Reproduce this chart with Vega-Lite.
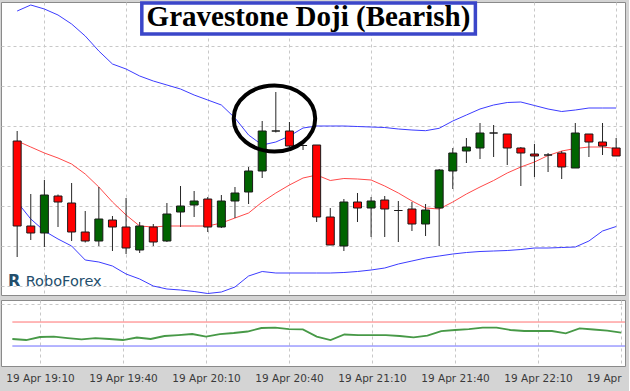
{
  "$schema": "https://vega.github.io/schema/vega-lite/v6.json",
  "background": "#d4d4d4",
  "padding": {"left": 0, "top": 0, "right": 3, "bottom": 4},
  "spacing": 3,
  "datasets": {
    "candles": [
      {"t": "2013/04/19 19:00", "o": 1.30145, "h": 1.30155, "l": 1.30029, "c": 1.3006, "dir": "down", "up": 1.30275, "mid": 1.30145, "lo": 1.30084, "rsi": 41.7},
      {"t": "2013/04/19 19:05", "o": 1.3006, "h": 1.30092, "l": 1.30046, "c": 1.30053, "dir": "down", "up": 1.30281, "mid": 1.30139, "lo": 1.30067, "rsi": 40},
      {"t": "2013/04/19 19:10", "o": 1.30053, "h": 1.30106, "l": 1.30039, "c": 1.30091, "dir": "up", "up": 1.30277, "mid": 1.30133, "lo": 1.30055, "rsi": 45},
      {"t": "2013/04/19 19:15", "o": 1.3009, "h": 1.300915, "l": 1.30059, "c": 1.30084, "dir": "down", "up": 1.30271, "mid": 1.30128, "lo": 1.30047, "rsi": 45.5},
      {"t": "2013/04/19 19:20", "o": 1.30083, "h": 1.30103, "l": 1.30045, "c": 1.30054, "dir": "down", "up": 1.30262, "mid": 1.30122, "lo": 1.3004, "rsi": 43.3},
      {"t": "2013/04/19 19:25", "o": 1.30054, "h": 1.30075, "l": 1.300435, "c": 1.30045, "dir": "down", "up": 1.3025, "mid": 1.30112, "lo": 1.30026, "rsi": 41.2},
      {"t": "2013/04/19 19:30", "o": 1.30045, "h": 1.30099, "l": 1.3004, "c": 1.30067, "dir": "up", "up": 1.30235, "mid": 1.30099, "lo": 1.30024, "rsi": 43.3},
      {"t": "2013/04/19 19:35", "o": 1.30066, "h": 1.3007, "l": 1.30035, "c": 1.30059, "dir": "down", "up": 1.30222, "mid": 1.30084, "lo": 1.3002, "rsi": 41.7},
      {"t": "2013/04/19 19:40", "o": 1.30059, "h": 1.30088, "l": 1.30032, "c": 1.30038, "dir": "down", "up": 1.30217, "mid": 1.30071, "lo": 1.30012, "rsi": 40},
      {"t": "2013/04/19 19:45", "o": 1.30036, "h": 1.30064, "l": 1.30033, "c": 1.3006, "dir": "up", "up": 1.3021, "mid": 1.3006, "lo": 1.30007, "rsi": 44.2},
      {"t": "2013/04/19 19:50", "o": 1.30059, "h": 1.30062, "l": 1.3004, "c": 1.30044, "dir": "down", "up": 1.30205, "mid": 1.30059, "lo": 1.3, "rsi": 41.7},
      {"t": "2013/04/19 19:55", "o": 1.30045, "h": 1.30083, "l": 1.30044, "c": 1.30072, "dir": "up", "up": 1.30201, "mid": 1.3006, "lo": 1.29997, "rsi": 46.7},
      {"t": "2013/04/19 20:00", "o": 1.30074, "h": 1.301, "l": 1.30059, "c": 1.3008, "dir": "up", "up": 1.30197, "mid": 1.3006, "lo": 1.29996, "rsi": 48.3},
      {"t": "2013/04/19 20:05", "o": 1.30081, "h": 1.30095, "l": 1.30069, "c": 1.30085, "dir": "up", "up": 1.30191, "mid": 1.3006, "lo": 1.299945, "rsi": 50},
      {"t": "2013/04/19 20:10", "o": 1.30087, "h": 1.30089, "l": 1.30054, "c": 1.30059, "dir": "down", "up": 1.30186, "mid": 1.3006, "lo": 1.299925, "rsi": 45.8},
      {"t": "2013/04/19 20:15", "o": 1.30059, "h": 1.30091, "l": 1.30058, "c": 1.30085, "dir": "up", "up": 1.30181, "mid": 1.30063, "lo": 1.29994, "rsi": 50},
      {"t": "2013/04/19 20:20", "o": 1.30085, "h": 1.30099, "l": 1.30068, "c": 1.30093, "dir": "up", "up": 1.30168, "mid": 1.30068, "lo": 1.29999, "rsi": 51.7},
      {"t": "2013/04/19 20:25", "o": 1.30094, "h": 1.30119, "l": 1.30082, "c": 1.30115, "dir": "up", "up": 1.30151, "mid": 1.30073, "lo": 1.3001, "rsi": 54.2},
      {"t": "2013/04/19 20:30", "o": 1.30115, "h": 1.30165, "l": 1.30108, "c": 1.30155, "dir": "up", "up": 1.30141, "mid": 1.30084, "lo": 1.300145, "rsi": 60},
      {"t": "2013/04/19 20:35", "o": 1.30155, "h": 1.30194, "l": 1.301535, "c": 1.30155, "dir": "doji", "up": 1.30144, "mid": 1.30093, "lo": 1.30013, "rsi": 60.5},
      {"t": "2013/04/19 20:40", "o": 1.30155, "h": 1.30164, "l": 1.30139, "c": 1.3014, "dir": "down", "up": 1.3015, "mid": 1.30101, "lo": 1.30013, "rsi": 58.3},
      {"t": "2013/04/19 20:45", "o": 1.301405, "h": 1.301415, "l": 1.30136, "c": 1.301405, "dir": "doji", "up": 1.30158, "mid": 1.30108, "lo": 1.30013, "rsi": 57.8},
      {"t": "2013/04/19 20:50", "o": 1.30141, "h": 1.30141, "l": 1.30064, "c": 1.30069, "dir": "down", "up": 1.3016, "mid": 1.30111, "lo": 1.30013, "rsi": 45.8},
      {"t": "2013/04/19 20:55", "o": 1.30069, "h": 1.30078, "l": 1.30041, "c": 1.30041, "dir": "down", "up": 1.3016, "mid": 1.301055, "lo": 1.30013, "rsi": 40},
      {"t": "2013/04/19 21:00", "o": 1.3004, "h": 1.30087, "l": 1.30035, "c": 1.30084, "dir": "up", "up": 1.3016, "mid": 1.301075, "lo": 1.300135, "rsi": 49.2},
      {"t": "2013/04/19 21:05", "o": 1.30084, "h": 1.30093, "l": 1.30064, "c": 1.30078, "dir": "down", "up": 1.301595, "mid": 1.30107, "lo": 1.300145, "rsi": 48.3},
      {"t": "2013/04/19 21:10", "o": 1.30078, "h": 1.30089, "l": 1.30049, "c": 1.30085, "dir": "up", "up": 1.30159, "mid": 1.30106, "lo": 1.30016, "rsi": 48.3},
      {"t": "2013/04/19 21:15", "o": 1.30086, "h": 1.3009, "l": 1.30049, "c": 1.30077, "dir": "down", "up": 1.301585, "mid": 1.301, "lo": 1.30018, "rsi": 48.3},
      {"t": "2013/04/19 21:20", "o": 1.300755, "h": 1.30085, "l": 1.30044, "c": 1.300755, "dir": "doji", "up": 1.30157, "mid": 1.30093, "lo": 1.30022, "rsi": 46.7},
      {"t": "2013/04/19 21:25", "o": 1.30077, "h": 1.30084, "l": 1.30055, "c": 1.30062, "dir": "down", "up": 1.30156, "mid": 1.30085, "lo": 1.30025, "rsi": 44.5},
      {"t": "2013/04/19 21:30", "o": 1.30062, "h": 1.30082, "l": 1.3005, "c": 1.30076, "dir": "up", "up": 1.301553, "mid": 1.30078, "lo": 1.30028, "rsi": 47.5},
      {"t": "2013/04/19 21:35", "o": 1.30078, "h": 1.30117, "l": 1.3004, "c": 1.30116, "dir": "up", "up": 1.301577, "mid": 1.30077, "lo": 1.3003, "rsi": 55},
      {"t": "2013/04/19 21:40", "o": 1.30115, "h": 1.30138, "l": 1.30097, "c": 1.30133, "dir": "up", "up": 1.30165, "mid": 1.30084, "lo": 1.30032, "rsi": 56.7},
      {"t": "2013/04/19 21:45", "o": 1.30135, "h": 1.30148, "l": 1.30123, "c": 1.30139, "dir": "up", "up": 1.30171, "mid": 1.30092, "lo": 1.300335, "rsi": 58.3},
      {"t": "2013/04/19 21:50", "o": 1.30138, "h": 1.30163, "l": 1.30127, "c": 1.30153, "dir": "up", "up": 1.30177, "mid": 1.30099, "lo": 1.300345, "rsi": 60.5},
      {"t": "2013/04/19 21:55", "o": 1.30153, "h": 1.30161, "l": 1.30129, "c": 1.30153, "dir": "doji", "up": 1.30181, "mid": 1.301055, "lo": 1.30035, "rsi": 60.5},
      {"t": "2013/04/19 22:00", "o": 1.30152, "h": 1.30152, "l": 1.30121, "c": 1.30138, "dir": "down", "up": 1.301835, "mid": 1.30113, "lo": 1.300355, "rsi": 56.7},
      {"t": "2013/04/19 22:05", "o": 1.30138, "h": 1.30139, "l": 1.301, "c": 1.30133, "dir": "down", "up": 1.30184, "mid": 1.30119, "lo": 1.300365, "rsi": 55},
      {"t": "2013/04/19 22:10", "o": 1.30132, "h": 1.30142, "l": 1.30109, "c": 1.3013, "dir": "down", "up": 1.301805, "mid": 1.30124, "lo": 1.30038, "rsi": 55},
      {"t": "2013/04/19 22:15", "o": 1.30131, "h": 1.30133, "l": 1.30114, "c": 1.30131, "dir": "doji", "up": 1.30177, "mid": 1.301305, "lo": 1.30038, "rsi": 55},
      {"t": "2013/04/19 22:20", "o": 1.30133, "h": 1.30135, "l": 1.30107, "c": 1.30119, "dir": "down", "up": 1.301745, "mid": 1.30135, "lo": 1.300385, "rsi": 51.2},
      {"t": "2013/04/19 22:25", "o": 1.30118, "h": 1.30163, "l": 1.30118, "c": 1.30153, "dir": "up", "up": 1.30176, "mid": 1.301375, "lo": 1.30039, "rsi": 59.5},
      {"t": "2013/04/19 22:30", "o": 1.30152, "h": 1.30152, "l": 1.30129, "c": 1.30144, "dir": "down", "up": 1.30178, "mid": 1.30139, "lo": 1.30045, "rsi": 57.5},
      {"t": "2013/04/19 22:35", "o": 1.30144, "h": 1.30163, "l": 1.30131, "c": 1.3014, "dir": "down", "up": 1.30178, "mid": 1.30139, "lo": 1.30055, "rsi": 55.8},
      {"t": "2013/04/19 22:40", "o": 1.30138, "h": 1.30148, "l": 1.3013, "c": 1.3013, "dir": "down", "up": 1.30178, "mid": 1.301375, "lo": 1.300595, "rsi": 52.5}
    ],
    "titlebox": [
      {"t": "2013/04/19 19:45:47", "t2": "2013/04/19 21:48:18", "p": 1.30283, "p2": 1.30252}
    ],
    "notes": [
      {"t": "2013/04/19 20:47:00", "p": 1.3026, "text": "Gravestone Doji (Bearish)", "kind": "title"},
      {"t": "2013/04/19 19:03:08", "p": 1.3, "text": "RoboForex", "kind": "logo"},
      {"t": "2013/04/19 18:56:38", "p": 1.3, "text": "R", "kind": "icon"}
    ],
    "ellipse": [
      {"t": "2013/04/19 20:34:30", "p": 1.301675}
    ],
    "levels": [
      {"t": "2013/04/19 19:00", "t2": "2013/04/19 22:41:25", "rsi": 70, "kind": "high"},
      {"t": "2013/04/19 19:00", "t2": "2013/04/19 22:41:25", "rsi": 30, "kind": "low"}
    ]
  },
  "vconcat": [
    {
      "width": 624,
      "height": 293,
      "encoding": {
        "x": {
          "field": "t", "type": "temporal", "title": null,
          "scale": {"domain": [{"year": 2013, "month": 4, "date": 19, "hours": 18, "minutes": 55, "seconds": 54}, {"year": 2013, "month": 4, "date": 19, "hours": 22, "minutes": 41, "seconds": 25}], "nice": false},
          "axis": {
            "values": [
              {"year": 2013, "month": 4, "date": 19, "hours": 19, "minutes": 10},
              {"year": 2013, "month": 4, "date": 19, "hours": 19, "minutes": 40},
              {"year": 2013, "month": 4, "date": 19, "hours": 20, "minutes": 10},
              {"year": 2013, "month": 4, "date": 19, "hours": 20, "minutes": 40},
              {"year": 2013, "month": 4, "date": 19, "hours": 21, "minutes": 10},
              {"year": 2013, "month": 4, "date": 19, "hours": 21, "minutes": 40},
              {"year": 2013, "month": 4, "date": 19, "hours": 22, "minutes": 10},
              {"year": 2013, "month": 4, "date": 19, "hours": 22, "minutes": 40}
            ],
            "labels": false, "ticks": false, "domain": false, "grid": true
          }
        }
      },
      "layer": [
        {
          "data": {"name": "candles"},
          "mark": {"type": "line", "color": "#3c3cff", "strokeWidth": 1},
          "encoding": {
            "y": {"field": "up", "type": "quantitative", "title": null,
              "scale": {"domain": [1.29991, 1.30284], "nice": false, "zero": false},
              "axis": {"values": [1.3, 1.3004, 1.3008, 1.3012, 1.3016, 1.302, 1.3024], "labels": false, "ticks": false, "domain": false, "grid": true}}
          }
        },
        {
          "data": {"name": "candles"},
          "mark": {"type": "line", "color": "#3c3cff", "strokeWidth": 1},
          "encoding": {
            "y": {"field": "lo", "type": "quantitative", "title": null, "scale": {"domain": [1.29991, 1.30284], "nice": false, "zero": false}}
          }
        },
        {
          "data": {"name": "candles"},
          "mark": {"type": "line", "color": "#ff4a4a", "strokeWidth": 1},
          "encoding": {
            "y": {"field": "mid", "type": "quantitative", "title": null, "scale": {"domain": [1.29991, 1.30284], "nice": false, "zero": false}}
          }
        },
        {
          "data": {"name": "candles"},
          "mark": {"type": "rule", "color": "#262626", "strokeWidth": 1},
          "encoding": {
            "y": {"field": "l", "type": "quantitative", "title": null, "scale": {"domain": [1.29991, 1.30284], "nice": false, "zero": false}},
            "y2": {"field": "h"}
          }
        },
        {
          "data": {"name": "candles"},
          "mark": {"type": "bar", "size": 8, "stroke": "#1a1a1a", "strokeWidth": 1},
          "encoding": {
            "y": {"field": "o", "type": "quantitative", "title": null, "scale": {"domain": [1.29991, 1.30284], "nice": false, "zero": false}},
            "y2": {"field": "c"},
            "color": {"field": "dir", "type": "nominal", "legend": null,
              "scale": {"domain": ["up", "down", "doji"], "range": ["#006400", "#ff0000", "#333333"]}}
          }
        },
        {
          "data": {"name": "titlebox"},
          "mark": {"type": "rect", "fill": "white", "stroke": "#3b46c9", "strokeWidth": 3.5},
          "encoding": {
            "x2": {"field": "t2"},
            "y": {"field": "p", "type": "quantitative", "title": null, "scale": {"domain": [1.29991, 1.30284], "nice": false, "zero": false}},
            "y2": {"field": "p2"}
          }
        },
        {
          "data": {"name": "notes"},
          "transform": [{"filter": "datum.kind == 'title'"}],
          "mark": {"type": "text", "font": "Liberation Serif", "fontWeight": "bold", "fontSize": 29, "align": "center", "baseline": "alphabetic", "color": "#000000"},
          "encoding": {
            "y": {"field": "p", "type": "quantitative", "title": null, "scale": {"domain": [1.29991, 1.30284], "nice": false, "zero": false}},
            "text": {"field": "text"}
          }
        },
        {
          "data": {"name": "notes"},
          "transform": [{"filter": "datum.kind == 'logo'"}],
          "mark": {"type": "text", "font": "DejaVu Sans", "fontSize": 14.5, "align": "left", "baseline": "alphabetic", "color": "#234e6c"},
          "encoding": {
            "y": {"field": "p", "type": "quantitative", "title": null, "scale": {"domain": [1.29991, 1.30284], "nice": false, "zero": false}},
            "text": {"field": "text"}
          }
        },
        {
          "data": {"name": "notes"},
          "transform": [{"filter": "datum.kind == 'icon'"}],
          "mark": {"type": "text", "font": "DejaVu Sans", "fontWeight": "bold", "fontSize": 16, "align": "left", "baseline": "alphabetic", "color": "#234e6c"},
          "encoding": {
            "y": {"field": "p", "type": "quantitative", "title": null, "scale": {"domain": [1.29991, 1.30284], "nice": false, "zero": false}},
            "text": {"field": "text"}
          }
        },
        {
          "data": {"name": "ellipse"},
          "mark": {"type": "point", "shape": "M 1 0 C 1 0.447 0.553 0.81 0 0.81 C -0.553 0.81 -1 0.447 -1 0 C -1 -0.447 -0.553 -0.81 0 -0.81 C 0.553 -0.81 1 -0.447 1 0 Z", "size": 6642, "filled": false, "color": "#000000", "strokeWidth": 4, "opacity": 1},
          "encoding": {
            "y": {"field": "p", "type": "quantitative", "title": null, "scale": {"domain": [1.29991, 1.30284], "nice": false, "zero": false}}
          }
        }
      ]
    },
    {
      "width": 624,
      "height": 66,
      "encoding": {
        "x": {
          "field": "t", "type": "temporal", "title": null,
          "scale": {"domain": [{"year": 2013, "month": 4, "date": 19, "hours": 18, "minutes": 55, "seconds": 54}, {"year": 2013, "month": 4, "date": 19, "hours": 22, "minutes": 41, "seconds": 25}], "nice": false},
          "axis": {
            "values": [
              {"year": 2013, "month": 4, "date": 19, "hours": 19, "minutes": 10},
              {"year": 2013, "month": 4, "date": 19, "hours": 19, "minutes": 40},
              {"year": 2013, "month": 4, "date": 19, "hours": 20, "minutes": 10},
              {"year": 2013, "month": 4, "date": 19, "hours": 20, "minutes": 40},
              {"year": 2013, "month": 4, "date": 19, "hours": 21, "minutes": 10},
              {"year": 2013, "month": 4, "date": 19, "hours": 21, "minutes": 40},
              {"year": 2013, "month": 4, "date": 19, "hours": 22, "minutes": 10},
              {"year": 2013, "month": 4, "date": 19, "hours": 22, "minutes": 40}
            ],
            "format": "%d %b %H:%M",
            "labelExpr": "hours(datum.value) == 22 && minutes(datum.value) == 40 ? '19 Apr' : datum.label",
            "labelFlush": 6,
            "labelOverlap": false,
            "labelBaseline": "top",
            "ticks": false, "domain": false, "grid": true, "minExtent": 21
          }
        }
      },
      "layer": [
        {
          "data": {"name": "levels"},
          "transform": [{"filter": "datum.kind == 'high'"}],
          "mark": {"type": "rule", "color": "#ff7070", "strokeWidth": 1},
          "encoding": {
            "x2": {"field": "t2"},
            "y": {"field": "rsi", "type": "quantitative", "title": null,
              "scale": {"domain": [-3.3, 106.7], "nice": false, "zero": false},
              "axis": {"values": [100], "labels": false, "ticks": false, "domain": false, "grid": true}}
          }
        },
        {
          "data": {"name": "levels"},
          "transform": [{"filter": "datum.kind == 'low'"}],
          "mark": {"type": "rule", "color": "#6a6aff", "strokeWidth": 1},
          "encoding": {
            "x2": {"field": "t2"},
            "y": {"field": "rsi", "type": "quantitative", "title": null, "scale": {"domain": [-3.3, 106.7], "nice": false, "zero": false}}
          }
        },
        {
          "data": {"name": "candles"},
          "mark": {"type": "line", "color": "#479947", "strokeWidth": 1.8},
          "encoding": {
            "y": {"field": "rsi", "type": "quantitative", "title": null, "scale": {"domain": [-3.3, 106.7], "nice": false, "zero": false}}
          }
        }
      ]
    }
  ],
  "config": {
    "view": {"fill": "white", "stroke": "#8a8a8a", "strokeWidth": 1},
    "axis": {
      "gridColor": "#c8c8c8", "gridDash": [3, 3], "gridWidth": 1,
      "labelFont": "DejaVu Sans", "labelFontSize": 10.5, "labelColor": "#3a3a3a", "labelPadding": 7,
      "minExtent": 0
    }
  }
}
